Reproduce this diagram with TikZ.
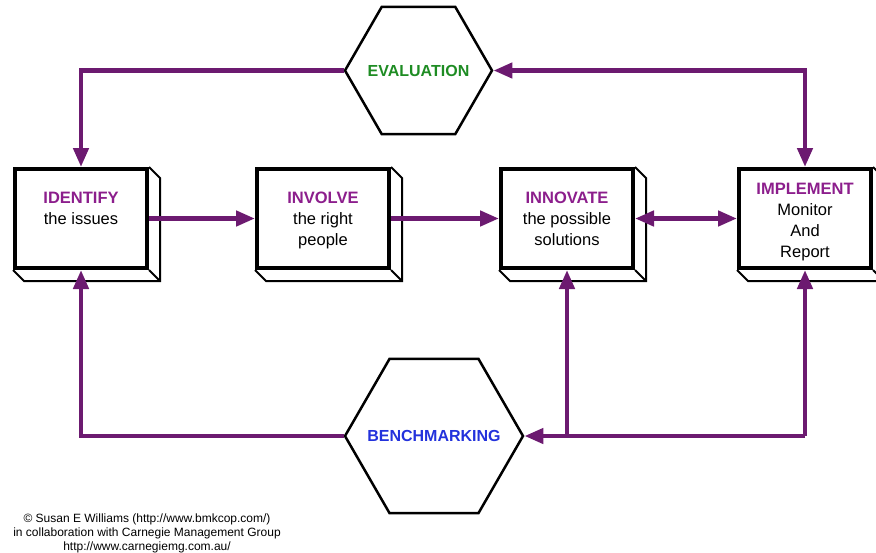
\documentclass[tikz,border=0pt]{standalone}
\usepackage{fontspec}
\setmainfont{Liberation Sans}
\usetikzlibrary{positioning,shapes.geometric,arrows.meta,calc}
\definecolor{headpurple}{RGB}{140,30,140}
\definecolor{flowpurple}{RGB}{108,26,112}
\definecolor{evalgreen}{RGB}{30,140,35}
\definecolor{benchblue}{RGB}{35,50,220}
\tikzset{
    stagebox/.style={draw, line width=4pt, minimum width=132pt, minimum height=99pt, inner sep=0pt},
    stagetext/.style={anchor=north, inner sep=0pt, align=center, font=\fontsize{16.5}{21}\selectfont},
    hexnode/.style={draw, line width=2.5pt, regular polygon, regular polygon sides=6, inner sep=0pt},
    hextext/.style={inner sep=0pt, font=\bfseries\fontsize{16}{19}\selectfont},
    flow/.style={draw=flowpurple, line width=4.5pt,
        -{Triangle[length=19pt,width=15pt]}},
    flowboth/.style={flow, {Triangle[length=19pt,width=15pt]}-{Triangle[length=19pt,width=15pt]}}
}
\newcommand{\head}[1]{{\color{headpurple}\bfseries #1}}
\newcommand{\depth}[1]{%
    \draw[line width=2pt, line join=miter] (#1.north east) -- ++(11,11) -- ($(#1.south east)+(11,11)$)
        -- ($(#1.south west)+(11,11)$) -- (#1.south west);
    \draw[line width=2pt] (#1.south east) -- ++(11,11);}

\begin{document}
\begin{tikzpicture}[x=1pt, y=-1pt]
    \useasboundingbox (0,0) rectangle (876,552);

    % stages
    \node[stagebox] (identify) at (81,218.5) {};
    \node[stagebox] (involve) at (323,218.5) {};
    \node[stagebox] (innovate) at (567,218.5) {};
    \node[stagebox] (implement) at (805,218.5) {};
    \foreach \b in {identify,involve,innovate,implement}
        \depth{\b};
    \node[stagetext] (identify-text) at ($(identify.north)+(0,25)$) {\head{IDENTIFY}\\the issues};
    \node[stagetext] (involve-text) at ($(involve.north)+(0,25)$) {\head{INVOLVE}\\the right\\people};
    \node[stagetext] (innovate-text) at ($(innovate.north)+(0,25)$) {\head{INNOVATE}\\the possible\\solutions};
    \node[stagetext] (implement-text) at ($(implement.north)+(0,16)$) {\head{IMPLEMENT}\\Monitor\\And\\Report};

    % hexagons
    \node[hexnode, minimum size=147pt] (evaluation) at (418.5,70.5) {};
    \node[hexnode, minimum size=178pt] (benchmarking) at (434,436) {};
    \node[hextext, text=evalgreen] (evaluation-text) at (evaluation.center) {EVALUATION};
    \node[hextext, text=benchblue] (benchmarking-text) at (benchmarking.center) {BENCHMARKING};

    % connectors
    \draw[flow] (evaluation.west) -| (identify.north);
    \draw[flowboth] (evaluation.east) -| (implement.north);
    \draw[flow] (identify.east) -- (involve.west);
    \draw[flow] (involve.east) -- (innovate.west);
    \draw[flowboth] (innovate.east) -- (implement.west);
    \draw[flow] (benchmarking.west) -| (identify.south);
    \coordinate (corner) at (implement.south |- benchmarking.east);
    \coordinate (tap) at (innovate.south |- benchmarking.east);
    \draw[flow] (corner) -- (benchmarking.east);
    \draw[flow] (corner) -- (implement.south);
    \draw[flow] (tap) -- (innovate.south);

    % credits
    \node[align=center, font=\fontsize{12}{14}\selectfont] (credit) at (147,533)
        {© Susan E Williams (http://www.bmkcop.com/)\\in collaboration with Carnegie Management Group\\http://www.carnegiemg.com.au/};
\end{tikzpicture}
\end{document}
